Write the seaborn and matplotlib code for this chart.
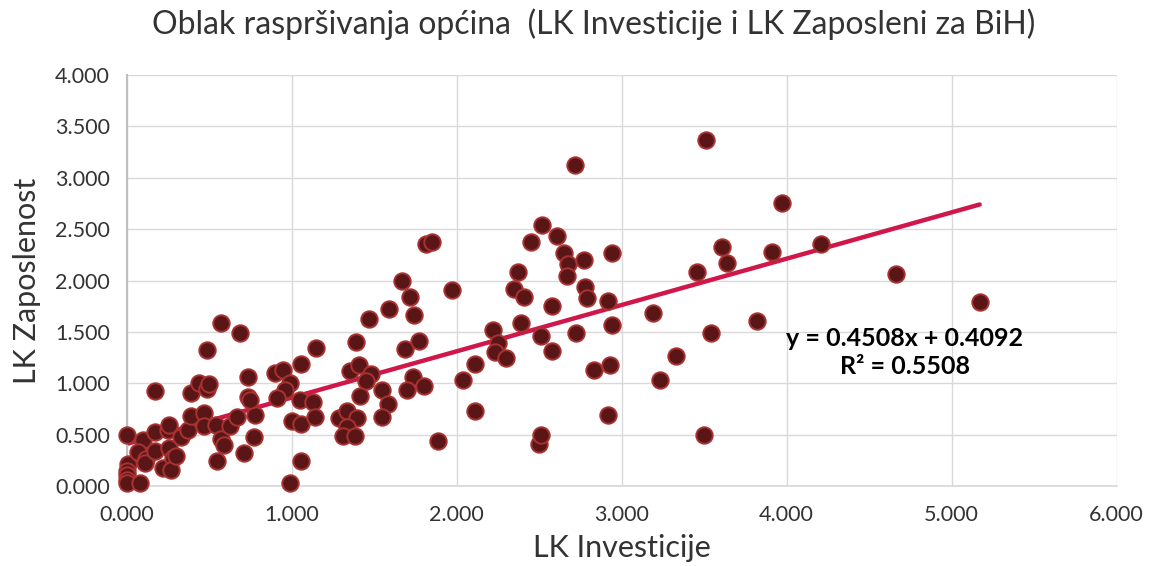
import numpy as np
import pandas as pd
import matplotlib
matplotlib.use("Agg")
import matplotlib.pyplot as plt
from matplotlib.ticker import FuncFormatter, MultipleLocator
import seaborn as sns

# LK values per municipality
lk_investicije = [
    0.00, 0.01, 0.00, 0.00, 0.00, 0.00, 0.08, 0.10, 0.07, 0.12,
    0.11, 0.17, 0.17, 0.17, 0.22, 0.25, 0.26, 0.26, 0.28, 0.27,
    0.30, 0.33, 0.37, 0.39, 0.47, 0.47, 0.54, 0.57, 0.59, 0.55,
    0.63, 0.67, 0.71, 0.77, 0.78, 0.735, 0.75, 0.735, 0.39, 0.44,
    0.49, 0.50, 0.57, 0.69, 0.49, 0.99, 1.06, 0.90, 0.95, 1.06,
    1.15, 0.99, 0.96, 0.91, 1.05, 1.13, 1.00, 1.06, 1.145, 1.29,
    1.335, 1.395, 1.335, 1.31, 1.385, 1.355, 1.41, 1.48, 1.45, 1.415,
    1.39, 1.47, 1.59, 1.67, 1.715, 1.745, 1.97, 1.685, 1.775, 1.55,
    1.585, 1.55, 1.735, 1.70, 1.80, 1.89, 1.815, 1.85, 2.04, 2.11,
    2.11, 2.22, 2.25, 2.23, 2.30, 2.39, 2.37, 2.35, 2.41, 2.45,
    2.52, 2.50, 2.51, 2.715, 2.61, 2.65, 2.675, 2.67, 2.77, 2.94,
    2.78, 2.79, 2.92, 2.58, 2.51, 2.725, 2.94, 2.58, 2.83, 2.93,
    2.92, 3.19, 3.23, 3.33, 3.50, 3.54, 3.46, 3.61, 3.64, 3.97,
    3.91, 3.82, 4.21, 4.66, 5.17, 3.51,
]
lk_zaposleni = [
    0.50, 0.21, 0.15, 0.11, 0.06, 0.03, 0.03, 0.45, 0.33, 0.26,
    0.22, 0.53, 0.34, 0.92, 0.18, 0.55, 0.59, 0.37, 0.27, 0.16,
    0.29, 0.48, 0.545, 0.68, 0.71, 0.58, 0.59, 0.46, 0.40, 0.24,
    0.58, 0.67, 0.32, 0.48, 0.69, 0.87, 0.84, 1.06, 0.91, 1.00,
    0.94, 0.99, 1.59, 1.49, 1.32, 0.03, 0.24, 1.10, 1.13, 1.19,
    1.34, 1.00, 0.93, 0.86, 0.84, 0.82, 0.63, 0.60, 0.675, 0.665,
    0.73, 0.66, 0.57, 0.49, 0.49, 1.12, 1.18, 1.09, 1.02, 0.88,
    1.405, 1.63, 1.72, 2.00, 1.84, 1.665, 1.91, 1.33, 1.41, 0.93,
    0.80, 0.675, 1.065, 0.93, 0.97, 0.44, 2.36, 2.37, 1.03, 1.185,
    0.73, 1.52, 1.395, 1.30, 1.25, 1.59, 2.08, 1.92, 1.84, 2.37,
    2.545, 0.41, 0.50, 3.125, 2.43, 2.265, 2.16, 2.04, 2.20, 2.27,
    1.935, 1.83, 1.80, 1.755, 1.46, 1.485, 1.57, 1.31, 1.13, 1.18,
    0.69, 1.68, 1.03, 1.27, 0.50, 1.485, 2.08, 2.33, 2.17, 2.75,
    2.275, 1.61, 2.36, 2.06, 1.795, 3.37,
]

# linear trend shown on the chart
slope = 0.4508
intercept = 0.4092
r2 = 0.5508

df = pd.DataFrame({"LK Investicije": lk_investicije, "LK Zaposlenost": lk_zaposleni})
trend_x = np.array([0.0, max(lk_investicije)])
trend = pd.DataFrame({"x": trend_x, "y": slope * trend_x + intercept})

sns.set_theme(style="white")
plt.rcParams["font.family"] = ["Lato", "DejaVu Sans"]

fig = plt.figure(figsize=(11.5, 5.66), dpi=100)
ax = fig.add_axes([0.110, 0.1413, 0.861, 0.7262])

ax.grid(True, color="#d9d9d9", linewidth=1.0)
ax.set_axisbelow(True)

sns.lineplot(data=trend, x="x", y="y", ax=ax, color="#d0174a", linewidth=3.2, zorder=2)
sns.scatterplot(data=df, x="LK Investicije", y="LK Zaposlenost", ax=ax,
                s=140, color="#5a1616", edgecolor="#a83232", linewidth=1.4,
                zorder=3, clip_on=False)

ax.set_xlim(0, 6)
ax.set_ylim(0, 4)
ax.xaxis.set_major_locator(MultipleLocator(1))
ax.yaxis.set_major_locator(MultipleLocator(0.5))
fmt = FuncFormatter(lambda v, p: f"{v:.3f}")
ax.xaxis.set_major_formatter(fmt)
ax.yaxis.set_major_formatter(fmt)
ax.tick_params(axis="both", length=0, labelsize=15.5, colors="#333333")
ax.tick_params(axis="x", pad=14)
ax.tick_params(axis="y", pad=12)

for side in ["top", "right"]:
    ax.spines[side].set_visible(False)
ax.spines["bottom"].set_color("#d9d9d9")
ax.spines["left"].set_color("#bfbfbf")
ax.spines["left"].set_linewidth(1.5)

ax.set_xlabel("LK Investicije", fontsize=22, color="#333333", labelpad=6)
ax.set_ylabel("LK Zaposlenost", fontsize=22, color="#333333", labelpad=10)
fig.suptitle("Oblak raspršivanja općina  (LK Investicije i LK Zaposleni za BiH)",
             fontsize=23, color="#333333", x=0.516, y=0.985)

ax.text(4.715, 1.30, f"y = {slope:.4f}x + {intercept:.4f}\nR² = {r2:.4f}",
        fontsize=18, fontweight="bold", color="black", ha="center", va="center",
        linespacing=1.25)

fig.savefig("out.png", dpi=100)
